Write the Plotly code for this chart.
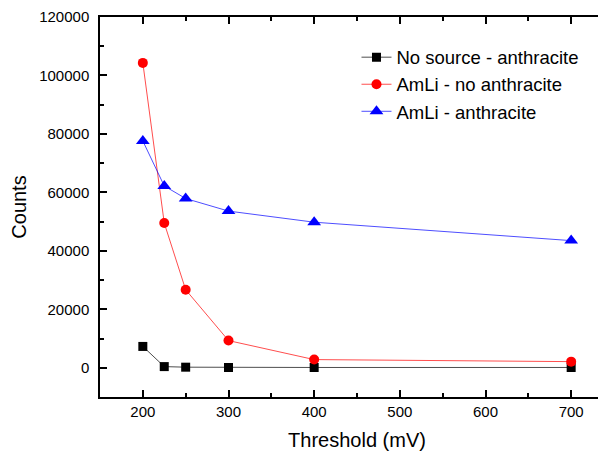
import plotly.graph_objects as go

threshold = [200, 225, 250, 300, 400, 700]
no_source_anthracite = [7300, 400, 200, 100, 100, 100]
amli_no_anthracite = [104300, 49500, 26700, 9300, 2800, 2100]
amli_anthracite = [77600, 62200, 57900, 53600, 49800, 43500]

FONT = "Liberation Sans, Arial, sans-serif"

fig = go.Figure()
fig.add_trace(go.Scatter(x=threshold, y=no_source_anthracite, mode="lines+markers",
                         name="No source - anthracite",
                         line=dict(color="#000000", width=0.7),
                         marker=dict(symbol="square", size=9, color="#000000")))
fig.add_trace(go.Scatter(x=threshold, y=amli_no_anthracite, mode="lines+markers",
                         name="AmLi - no anthracite",
                         line=dict(color="#ff0000", width=0.7),
                         marker=dict(symbol="circle", size=10, color="#ff0000")))
fig.add_trace(go.Scatter(x=threshold, y=amli_anthracite, mode="lines+markers",
                         name="AmLi - anthracite",
                         line=dict(color="#0000ff", width=0.7),
                         marker=dict(symbol="triangle-up", size=12, color="#0000ff")))

fig.update_layout(
    width=606, height=455,
    margin=dict(l=92, r=0, t=8.5, b=66, autoexpand=False),
    paper_bgcolor="white", plot_bgcolor="white",
    font=dict(family=FONT, color="black", size=15),
    showlegend=True,
    legend=dict(x=0.499, y=0.943, xanchor="left", yanchor="top",
                bgcolor="rgba(0,0,0,0)", borderwidth=0,
                font=dict(family=FONT, size=18.5), tracegroupgap=0,
                itemwidth=30),
)
fig.update_xaxes(
    range=[150, 750], showgrid=False, zeroline=False, automargin=False,
    showline=True, linecolor="black", linewidth=1.5, mirror="ticks",
    ticks="inside", ticklen=7, tickwidth=1.5, tickcolor="black",
    tickvals=[200, 300, 400, 500, 600, 700],
    minor=dict(ticks="inside", ticklen=4, tickwidth=1.5, tickcolor="black", dtick=50, tick0=150),
    tickfont=dict(family=FONT, size=15),
    title=dict(text="Threshold (mV)", font=dict(family=FONT, size=20), standoff=14),
    ticklabelstandoff=0,
)
fig.update_yaxes(
    range=[-10000, 120000], showgrid=False, zeroline=False, automargin=False,
    showline=True, linecolor="black", linewidth=1.5, mirror="ticks",
    ticks="inside", ticklen=7, tickwidth=1.5, tickcolor="black",
    tickvals=[0, 20000, 40000, 60000, 80000, 100000, 120000],
    ticktext=["0", "20000", "40000", "60000", "80000", "100000", "120000"],
    minor=dict(ticks="inside", ticklen=4, tickwidth=1.5, tickcolor="black", dtick=10000, tick0=0),
    tickfont=dict(family=FONT, size=15),
    title=dict(text="Counts", font=dict(family=FONT, size=20), standoff=8),
    ticklabelstandoff=6,
)

fig.write_html("out.html")
